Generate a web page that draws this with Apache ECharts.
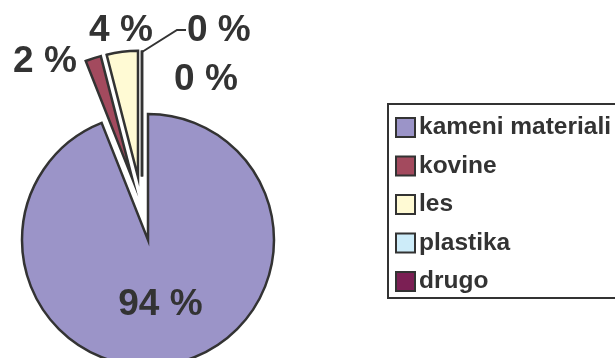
<!DOCTYPE html>
<html>
<head>
<meta charset="utf-8">
<script src="https://cdn.jsdelivr.net/npm/echarts@6/dist/echarts.min.js"></script>
<style>
  html, body { margin: 0; padding: 0; background: #ffffff; }
  #chart { width: 615px; height: 358px; }
</style>
</head>
<body>
<div id="chart"></div>
<script>
// Material shares (percent)
const categories = ['kameni materiali', 'kovine', 'les', 'plastika', 'drugo'];
const shares = [94, 2, 4, 0, 0];
const sliceColors = ['#9b94c8', '#a34a5e', '#fffad4', '#cdecf9', '#7b1f54'];

// Centres of the labels that sit outside the pie (index = slice), and the plastika leader
const labelSpots = [null, [45, 62], [121, 31], [220, 31], [206, 80]];
const leaderPoints = [[142, 52], [177, 30], [186, 30]];

const labelFont = {
  fontFamily: 'Liberation Sans, Arial, sans-serif',
  fontWeight: 'bold',
  fontSize: 37
};
const ink = '#333333';

const chart = echarts.init(document.getElementById('chart'), null, { renderer: 'canvas' });

const data = categories.map((name, i) => ({
  name: name,
  value: shares[i],
  selected: true,
  itemStyle: { color: sliceColors[i] },
  label: { show: i === 0, position: 'inside' },
  labelLine: { show: false }
}));

// Value labels for the thin slices, placed around the top of the pie
const outsideLabels = [];
labelSpots.forEach((spot, i) => {
  if (!spot) return;
  const leader = i === 3;
  outsideLabels.push({
    type: 'text',
    silent: true,
    x: leader ? leaderPoints[2][0] + 1 : spot[0],
    y: spot[1],
    style: Object.assign({
      text: shares[i] + ' %',
      fill: ink,
      align: leader ? 'left' : 'center',
      verticalAlign: 'middle'
    }, labelFont)
  });
});
outsideLabels.push({
  type: 'polyline',
  silent: true,
  shape: { points: leaderPoints },
  style: { stroke: ink, lineWidth: 2, fill: null }
});

chart.setOption({
  animation: false,
  backgroundColor: '#ffffff',
  legend: {
    orient: 'vertical',
    left: 388,
    top: 104,
    padding: [11, 30, 4, 7],
    itemWidth: 19,
    itemHeight: 19,
    itemGap: 13.5,
    icon: 'rect',
    borderColor: ink,
    borderWidth: 2,
    selectedMode: false,
    itemStyle: { borderColor: ink, borderWidth: 2 },
    textStyle: {
      fontFamily: 'Liberation Sans, Arial, sans-serif',
      fontWeight: 'bold',
      fontSize: 24.5,
      color: ink,
      lineHeight: 22,
      padding: [0, 0, 0, -1]
    },
    data: categories
  },
  graphic: outsideLabels,
  series: [{
    type: 'pie',
    center: [142, 208.6],
    radius: 126,
    startAngle: 90,
    clockwise: true,
    selectedMode: 'multiple',
    selectedOffset: 32,
    avoidLabelOverlap: false,
    silent: true,
    itemStyle: {
      borderColor: ink,
      borderWidth: 2.5,
      borderJoin: 'miter',
      borderMiterLimit: 30
    },
    label: Object.assign({ formatter: '{c} %', color: ink }, labelFont),
    data: data
  }]
});
</script>
</body>
</html>
